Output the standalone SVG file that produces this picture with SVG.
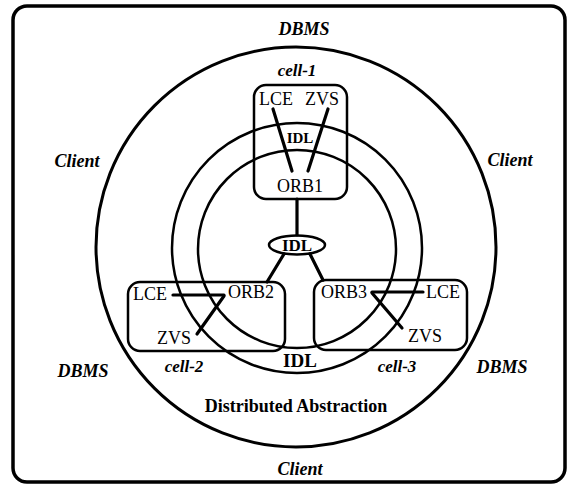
<svg xmlns="http://www.w3.org/2000/svg" width="569" height="486" viewBox="0 0 569 486">
<style>
.frame{fill:none;stroke:#000;stroke-width:3.5}
.ring{fill:none;stroke:#000;stroke-width:2.5}
.big{fill:none;stroke:#000;stroke-width:3}
.box{fill:none;stroke:#000;stroke-width:2.5}
.ln{stroke:#000;stroke-width:3.2;stroke-linecap:round;fill:none}
.t{font-family:"Liberation Serif","Times New Roman",serif;font-size:18px;fill:#000;text-anchor:middle}
.bi{font-family:"Liberation Serif","Times New Roman",serif;font-size:18px;font-weight:bold;font-style:italic;fill:#000;text-anchor:middle}
.ci{font-family:"Liberation Serif","Times New Roman",serif;font-size:17px;font-style:italic;font-weight:bold;fill:#000;text-anchor:middle}
.b{font-family:"Liberation Serif","Times New Roman",serif;font-weight:bold;fill:#000;text-anchor:middle}
</style>
<rect class="frame" x="13" y="6" width="552" height="476" rx="14"/>
<g id="background-circles">
<circle class="big" cx="296" cy="247" r="200"/>
<circle class="ring" cx="297" cy="248" r="125"/>
<circle class="ring" cx="297" cy="249" r="99"/>
</g>
<g id="region-labels">
<text class="bi" x="304" y="35">DBMS</text>
<text class="bi" x="77" y="167">Client</text>
<text class="bi" x="510" y="166">Client</text>
<text class="bi" x="83" y="377">DBMS</text>
<text class="bi" x="502" y="373">DBMS</text>
<text class="bi" x="300" y="475">Client</text>
<text class="b" x="296" y="412" font-size="18">Distributed Abstraction</text>
<text class="b" x="300" y="367" font-size="19">IDL</text>
<text class="b" x="300" y="143" font-size="15">IDL</text>
</g>
<g id="cell-1">
<rect class="box" x="254" y="85" width="93" height="114" rx="12"/>
<text class="ci" x="297" y="76">cell-1</text>
<text class="t" x="276" y="105">LCE</text>
<text class="t" x="322" y="105">ZVS</text>
<text class="t" x="300" y="192">ORB1</text>
<line class="ln" x1="273" y1="109" x2="292" y2="171"/>
<line class="ln" x1="328" y1="109" x2="308" y2="171"/>
</g>
<g id="idl-hub">
<ellipse cx="297" cy="245" rx="28" ry="9.5" fill="#fff" stroke="#000" stroke-width="2.5"/>
<text class="b" x="297" y="251" font-size="17">IDL</text>
</g>
<g id="cell-2">
<rect class="box" x="128" y="282" width="157" height="69" rx="12"/>
<text class="ci" x="184" y="372">cell-2</text>
<text class="t" x="150" y="300">LCE</text>
<text class="t" x="251" y="298">ORB2</text>
<text class="t" x="174" y="344">ZVS</text>
<line class="ln" x1="173" y1="295" x2="224" y2="295"/>
<line class="ln" x1="224" y1="296" x2="197" y2="334"/>
</g>
<g id="cell-3">
<rect class="box" x="314" y="280" width="153" height="70" rx="12"/>
<text class="ci" x="397" y="372">cell-3</text>
<text class="t" x="344" y="298">ORB3</text>
<text class="t" x="443" y="298">LCE</text>
<text class="t" x="425" y="342">ZVS</text>
<line class="ln" x1="372" y1="292" x2="423" y2="292"/>
<line class="ln" x1="372" y1="293" x2="402" y2="328"/>
</g>
<g id="connectors">
<line class="ln" x1="297" y1="199" x2="297" y2="235"/>
<line class="ln" x1="284" y1="254" x2="267" y2="282"/>
<line class="ln" x1="310" y1="254" x2="323" y2="280"/>
</g>
</svg>
